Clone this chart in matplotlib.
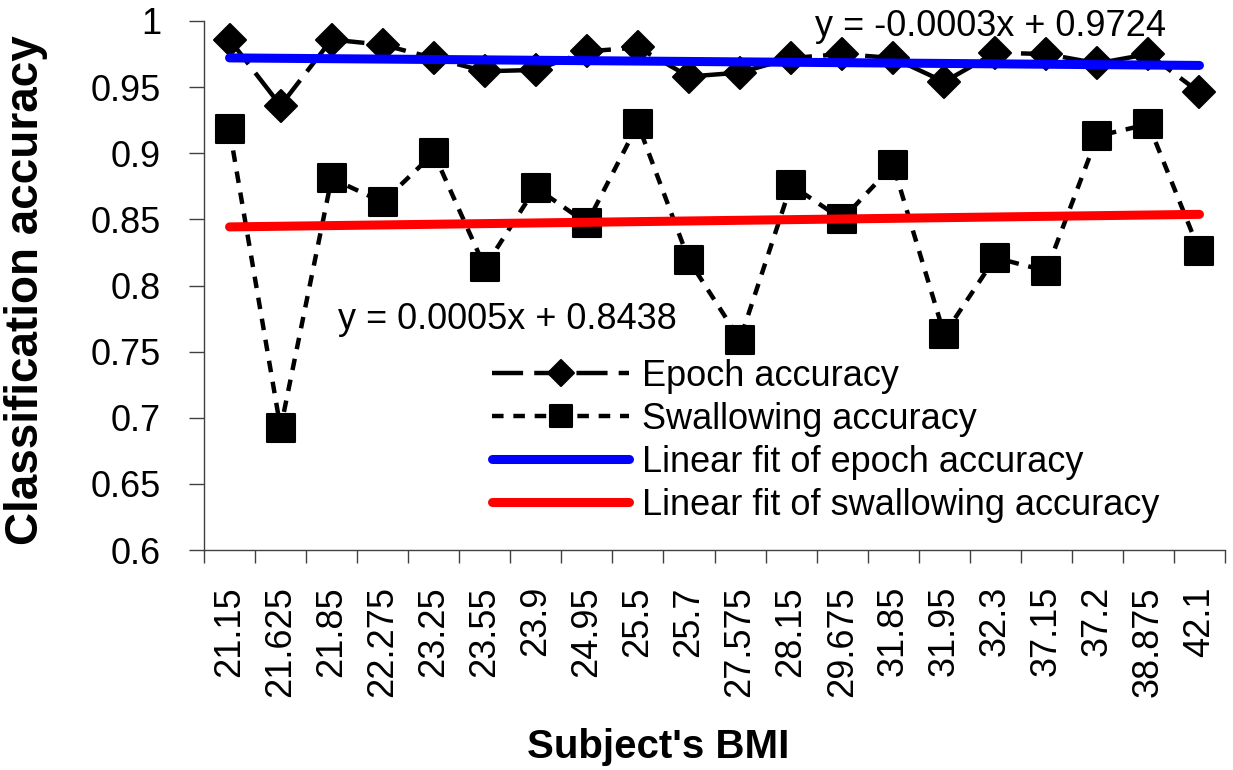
import numpy as np
import matplotlib.pyplot as plt
from matplotlib.markers import MarkerStyle

plt.rcParams['font.family'] = ['Liberation Sans', 'DejaVu Sans']

# Data
bmi = ["21.15", "21.625", "21.85", "22.275", "23.25", "23.55", "23.9", "24.95", "25.5", "25.7",
       "27.575", "28.15", "29.675", "31.85", "31.95", "32.3", "37.15", "37.2", "38.875", "42.1"]
epoch_acc = [0.986, 0.936, 0.986, 0.982, 0.972, 0.962, 0.963, 0.977, 0.980, 0.958,
             0.961, 0.972, 0.975, 0.972, 0.954, 0.976, 0.975, 0.968, 0.975, 0.946]
swallow_acc = [0.918, 0.692, 0.881, 0.863, 0.900, 0.814, 0.874, 0.847, 0.922, 0.819,
               0.759, 0.876, 0.850, 0.891, 0.763, 0.821, 0.811, 0.913, 0.922, 0.826]
# Trendline coefficients (Excel x = 1..20)
epoch_fit = (-0.0003, 0.9724)
swallow_fit = (0.0005, 0.8438)
yticks = [0.6, 0.65, 0.7, 0.75, 0.8, 0.85, 0.9, 0.95, 1.0]
ytick_labels = ["0.6", "0.65", "0.7", "0.75", "0.8", "0.85", "0.9", "0.95", "1"]

fs = 26
fig = plt.figure(figsize=(12.33, 7.70), dpi=100)
ax = fig.add_axes([204/1233, 1 - 550/770, (1225-204)/1233, (550-21)/770])

x = np.arange(len(bmi))
xf = x + 1

diamond = MarkerStyle('D', joinstyle='round')
square = MarkerStyle('s', joinstyle='round')

ax.plot(x, epoch_acc, color='black', lw=3.2, dashes=(7, 2.5), marker=diamond,
        ms=16.5, mfc='black', mec='black', mew=1.5, label='Epoch accuracy', zorder=3)
ax.plot(x, swallow_acc, color='black', lw=3.2, dashes=(2.6, 2.2), marker=square,
        ms=20, mfc='black', mec='black', mew=1.5, label='Swallowing accuracy', zorder=3)
ax.plot(x, epoch_fit[0] * xf + epoch_fit[1], color='#0000ff', lw=6.5,
        solid_capstyle='round', label='Linear fit of epoch accuracy', zorder=4)
ax.plot(x, swallow_fit[0] * xf + swallow_fit[1], color='#ff0000', lw=6.5,
        solid_capstyle='round', label='Linear fit of swallowing accuracy', zorder=4)

ax.text(11.46, 0.9887, "y = %.4fx + %.4f" % epoch_fit, fontsize=fs, va='baseline', ha='left')
ax.text(2.12, 0.7671, "y = %.4fx + %.4f" % swallow_fit, fontsize=fs, va='baseline', ha='left')

ax.set_xlim(-0.5, len(bmi) - 0.5)
ax.set_ylim(0.6, 1.0)
ax.set_xticks(x)
ax.set_xticklabels(bmi, rotation=90, fontsize=fs)
ax.set_xticks(np.arange(len(bmi) + 1) - 0.5, minor=True)
ax.tick_params(axis='x', which='major', length=0, pad=26)
ax.tick_params(axis='x', which='minor', length=9, width=1, color='#404040', direction='out')
ax.set_yticks(yticks)
ax.set_yticklabels(ytick_labels, fontsize=fs)
ax.tick_params(axis='y', length=11, width=1, color='#404040', pad=20)

for s in ['top', 'right']:
    ax.spines[s].set_visible(False)
for s in ['left', 'bottom']:
    ax.spines[s].set_color('#404040')
    ax.spines[s].set_linewidth(1)

ax.set_xlabel("Subject's BMI", fontsize=29, fontweight='bold', va='baseline')
ax.xaxis.set_label_coords((658 - 204) / 1021, 1 - (758 - 21) / 529)
ax.set_ylabel("Classification accuracy", fontsize=33, fontweight='bold')
ax.yaxis.set_label_coords((48 - 204) / 1021, 1 - (290 - 21) / 529)

ax.legend(loc='upper left', bbox_to_anchor=(492/1233, 1 - 359/770),
          bbox_transform=fig.transFigure, frameon=False, fontsize=fs,
          handlelength=3.8, handletextpad=0.35, labelspacing=0.22,
          borderpad=0, borderaxespad=0, markerscale=0.8)

fig.savefig('out.png', dpi=100)
